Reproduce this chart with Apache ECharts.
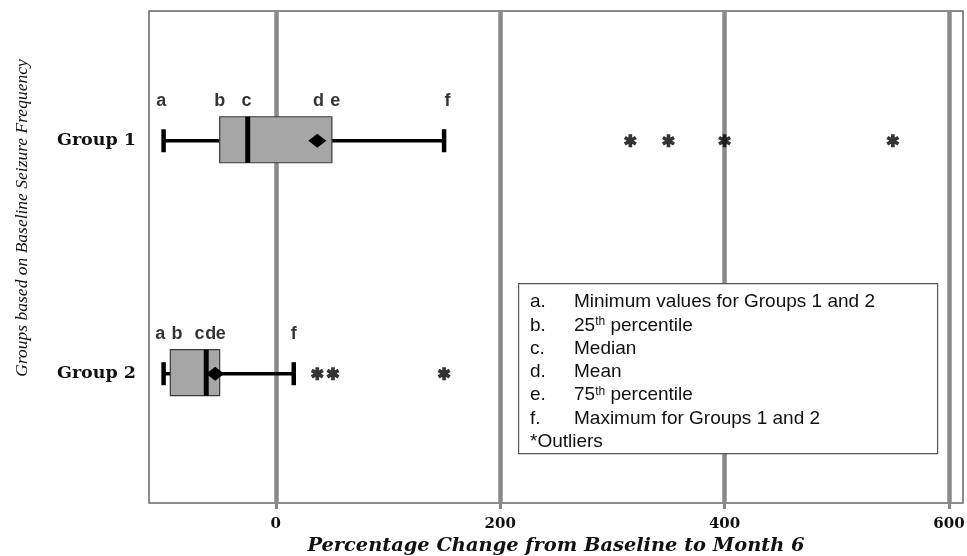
<!DOCTYPE html>
<html>
<head>
<meta charset="utf-8">
<script src="https://cdn.jsdelivr.net/npm/echarts@6/dist/echarts.min.js"></script>
<style>
html,body{margin:0;padding:0;background:#fff;}
#chart{width:967px;height:556px;}
</style>
</head>
<body>
<div id="chart"></div>
<script>
// ---- data ----
const groups = ['Group 1', 'Group 2'];
const groupIndex = [1, 2];
const minimum = [-100, -100];
const q1 = [-50, -94];
const median = [-25, -62];
const q3 = [50, -50];
const maximum = [150, 16];
const mean = [37, -54];

const outlierGroup = [1, 1, 1, 1, 2, 2, 2];
const outlierValue = [316, 350, 400, 550, 37, 51, 150];

const xTicks = [0, 200, 400, 600];

const letterText = ['a', 'b', 'c', 'd', 'e', 'f', 'a', 'b', 'c', 'd', 'e', 'f'];
const letterGroup = [1, 1, 1, 1, 1, 1, 2, 2, 2, 2, 2, 2];
const letterX = [-102, -50, -26, 38, 53, 153, -103, -88, -68, -58, -49, 16];

const legendKeys = ['a.', 'b.', 'c.', 'd.', 'e.', 'f.'];
const legendTexts = [
  'Minimum values for Groups 1 and 2',
  '25{sup|th} percentile',
  'Median',
  'Mean',
  '75{sup|th} percentile',
  'Maximum for Groups 1 and 2'
];
const legendFoot = '*Outliers';

// ---- chart ----
const chart = echarts.init(document.getElementById('chart'), null, {renderer: 'canvas'});

const boxData = groupIndex.map((g, i) => [g, minimum[i], q1[i], median[i], q3[i], maximum[i], mean[i]]);
const outlierData = outlierValue.map((v, i) => [v, outlierGroup[i]]);
const letterData = letterX.map((v, i) => ({value: [v, letterGroup[i]], name: letterText[i]}));

const asterisk = 'path://M-2 -7 L-2 7 L2 7 L2 -7 Z M5.062 5.232 L7.062 1.768 L-5.062 -5.232 L-7.062 -1.768 Z M-7.062 1.768 L-5.062 5.232 L7.062 -1.768 L5.062 -5.232 Z';

const legendGraphics = [];
const lx = 518, ly = 283, lw = 419, lh = 170;
legendGraphics.push({
  type: 'rect', left: lx, top: ly, z: 50,
  shape: {width: lw, height: lh},
  style: {fill: '#fff', stroke: '#555', lineWidth: 1.2}
});
const rowY0 = 302, rowStep = 23.3;
legendKeys.forEach((k, i) => {
  legendGraphics.push({
    type: 'text', x: 530, y: rowY0 + i * rowStep, z: 51,
    style: {text: k, font: '19px "Liberation Sans", Arial, sans-serif', fill: '#111', textVerticalAlign: 'middle', textAlign: 'left'}
  });
  legendGraphics.push({
    type: 'text', x: 574, y: rowY0 + i * rowStep, z: 51,
    style: {
      text: legendTexts[i],
      font: '19px "Liberation Sans", Arial, sans-serif', fill: '#111',
      textVerticalAlign: 'middle', textAlign: 'left',
      rich: {sup: {fontSize: 12, fontFamily: '"Liberation Sans", Arial, sans-serif', verticalAlign: 'top', lineHeight: 12, fill: '#111'}}
    }
  });
});
legendGraphics.push({
  type: 'text', x: 530, y: rowY0 + 6 * rowStep, z: 51,
  style: {text: legendFoot, font: '19px "Liberation Sans", Arial, sans-serif', fill: '#111', textVerticalAlign: 'middle', textAlign: 'left'}
});
legendGraphics.push({
  type: 'text', x: 22, y: 218, rotation: Math.PI / 2, z: 51,
  style: {text: 'Groups based on Baseline Seizure Frequency', font: 'italic 17.5px "Liberation Serif", serif', fill: '#111', textAlign: 'center', textVerticalAlign: 'middle'}
});

const option = {
  backgroundColor: '#fff',
  animation: false,
  grid: {left: 149, right: 4, top: 11, bottom: 53, show: true, outerBoundsMode: 'none', containLabel: false, borderColor: '#666', borderWidth: 1.5, backgroundColor: 'transparent'},
  xAxis: {
    type: 'value', min: -113, max: 612.5,
    axisLine: {show: false},
    axisTick: {show: true, customValues: xTicks, length: 6, lineStyle: {color: '#888', width: 3}},
    axisLabel: {customValues: xTicks, margin: 14, color: '#111', fontFamily: '"DejaVu Serif", serif', fontWeight: 'bold', fontSize: 15},
    splitLine: {show: true, lineStyle: {color: '#8a8a8a', width: 4.5}},
    name: 'Percentage Change from Baseline to Month 6',
    nameLocation: 'middle', nameGap: 29,
    nameTextStyle: {fontFamily: '"DejaVu Serif", serif', fontStyle: 'italic', fontWeight: 'bold', fontSize: 19.4, color: '#111'}
  },
  yAxis: {
    type: 'value', inverse: true, min: 0.443, max: 2.555,
    axisLine: {show: false},
    axisTick: {show: true, customValues: groupIndex, length: 8, lineStyle: {color: '#555', width: 1}},
    axisLabel: {customValues: groupIndex, formatter: v => groups[Math.round(v) - 1] || '', margin: 13, color: '#111', fontFamily: '"DejaVu Serif", serif', fontWeight: 'bold', fontSize: 17.5},
    splitLine: {show: false}
  },
  graphic: legendGraphics,
  series: [
    {
      type: 'custom', z: 5,
      data: boxData,
      encode: {x: [1, 2, 3, 4, 5, 6], y: 0},
      renderItem: function (params, api) {
        const g = api.value(0);
        const lo = api.coord([api.value(1), g]);
        const b1 = api.coord([api.value(2), g]);
        const md = api.coord([api.value(3), g]);
        const b3 = api.coord([api.value(4), g]);
        const hi = api.coord([api.value(5), g]);
        const mn = api.coord([api.value(6), g]);
        const y = lo[1];
        const h = 46, cap = 23, dw = 9, dh = 7;
        const ls = {stroke: '#000', lineWidth: 3.5};
        return {
          type: 'group',
          children: [
            {type: 'line', shape: {x1: lo[0], y1: y, x2: b1[0], y2: y}, style: ls},
            {type: 'line', shape: {x1: b3[0], y1: y, x2: hi[0], y2: y}, style: ls},
            {type: 'line', shape: {x1: lo[0], y1: y - cap / 2, x2: lo[0], y2: y + cap / 2}, style: {stroke: '#000', lineWidth: 4.5}},
            {type: 'line', shape: {x1: hi[0], y1: y - cap / 2, x2: hi[0], y2: y + cap / 2}, style: {stroke: '#000', lineWidth: 4.5}},
            {type: 'rect', shape: {x: b1[0], y: y - h / 2 - 1, width: b3[0] - b1[0], height: h}, style: {fill: '#a6a6a6', stroke: '#3a3a3a', lineWidth: 1.2}},
            {type: 'line', shape: {x1: md[0], y1: y - h / 2 - 1, x2: md[0], y2: y + h / 2 - 1}, style: {stroke: '#000', lineWidth: 5}},
            {type: 'polygon', shape: {points: [[mn[0] - dw, y], [mn[0], y - dh], [mn[0] + dw, y], [mn[0], y + dh]]}, style: {fill: '#000'}}
          ]
        };
      }
    },
    {
      type: 'scatter', z: 6,
      data: outlierData,
      symbol: asterisk, symbolSize: 13,
      itemStyle: {color: '#000'}
    },
    {
      type: 'scatter', z: 6,
      data: letterData,
      symbolSize: 0,
      label: {
        show: true, position: 'inside', offset: [0, -40],
        formatter: p => p.name,
        fontFamily: '"Liberation Sans", Arial, sans-serif', fontWeight: 'bold', fontSize: 18, color: '#000'
      }
    }
  ]
};
chart.setOption(option);
</script>
</body>
</html>
